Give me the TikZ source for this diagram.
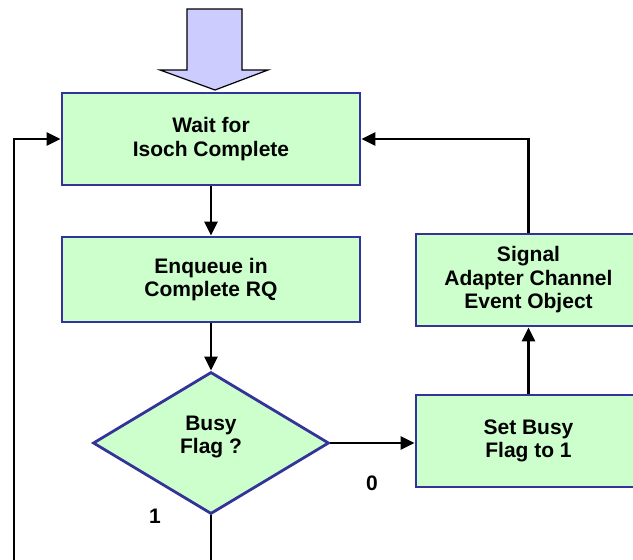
\documentclass[tikz,border=0pt]{standalone}
\usepackage{fontspec}
\setmainfont{Liberation Sans}
\usetikzlibrary{shapes.geometric,arrows.meta}
\definecolor{boxfill}{RGB}{204,255,204}
\definecolor{boxline}{RGB}{51,51,153}
\definecolor{entryfill}{RGB}{204,204,255}
\begin{document}
\begin{tikzpicture}[x=1pt,y=-1pt,
  every node/.style={font=\bfseries\fontsize{21}{23.5}\selectfont, align=center},
  procbox/.style={draw=boxline, fill=boxfill, line width=2.8pt, inner sep=0pt},
  decision/.style={diamond, draw=boxline, fill=boxfill, line width=2.8pt, inner sep=0pt,
    minimum width=236pt, minimum height=142pt, aspect=1.66},
  flow/.style={draw=black, line width=2.5pt, -{Triangle[length=14pt,width=13pt]}},
  plain/.style={draw=black, line width=2.5pt},
  edgelabel/.style={inner sep=0pt}]
  \useasboundingbox (0,0) rectangle (633,560);
  \clip (0,0) rectangle (633,560);

  % entry arrow
  \draw[fill=entryfill, draw=black, line width=1.2pt, line join=miter]
    (187,9) -- (242,9) -- (242,70) -- (268,70) -- (215,90) -- (160,70) -- (187,70) -- cycle;

  % process boxes
  \node[procbox, minimum width=298pt, minimum height=92pt] (wait) at (211,139) {Wait for\\Isoch Complete};
  \node[procbox, minimum width=298pt, minimum height=85pt] (enq) at (211,279.5) {Enqueue in\\Complete RQ};
  \node[decision] (busy) at (211,443) {};
  \node at (211,437) {Busy\\Flag ?};
  \node[procbox, minimum width=225pt, minimum height=92pt] (setb) at (528.5,441) {Set Busy\\Flag to 1};
  \node[procbox, minimum width=225pt, minimum height=92pt] (sig) at (528.5,280) {Signal\\Adapter Channel\\Event Object};

  % loose ends of the loops
  \coordinate (loopin) at (14,560);
  \coordinate (busyout) at (211,560);

  % connectors
  \draw[flow] (wait.south) -- (enq.north);
  \draw[flow] (enq.south) -- (busy.north);
  \draw[flow] (busy.east) -- (busy.east -| setb.west);
  \draw[flow] (setb.north) -- (sig.south);
  \draw[flow] (sig.north) |- (wait.east);
  \draw[flow] (loopin) |- (wait.west);
  \draw[plain] (busy.south) -- (busyout);

  % branch labels
  \node[edgelabel] (zero) at (372,483) {0};
  \node[edgelabel] (one) at (155,516) {1};
\end{tikzpicture}
\end{document}
